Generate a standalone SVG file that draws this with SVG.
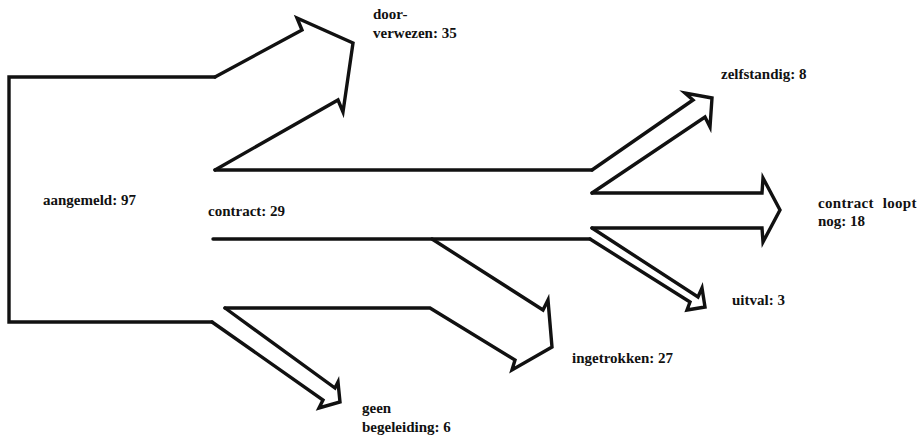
<svg xmlns="http://www.w3.org/2000/svg" width="919" height="438" viewBox="0 0 919 438">
  <style>
    .flow { fill: none; stroke: #111; stroke-width: 3.4; stroke-linejoin: miter; stroke-linecap: round; }
    .lbl { font-family: "Liberation Serif", "Times New Roman", serif; font-weight: bold; font-size: 15px; fill: #111; }
  </style>
  <rect width="919" height="438" fill="#fff"/>

  <!-- flow bands, drawn as outlines -->
  <g id="flows">
    <g id="aangemeld">
      <path class="flow" d="M215,77 L9,77 L9,322 L212,322"/>
    </g>
    <g id="doorverwezen">
      <path class="flow" d="M215,77 L302,30 L297,18 L353,43 L343,112 L338,100 L215,170"/>
    </g>
    <g id="contract">
      <path class="flow" d="M215,170 L592,170"/>
      <path class="flow" d="M213,239 L590,239"/>
    </g>
    <g id="zelfstandig">
      <path class="flow" d="M592,170 L693,100 L685,93 L712,98 L710,127 L705,117 L592,193"/>
    </g>
    <g id="contract-loopt-nog">
      <path class="flow" d="M592,193 L762,193 L763,178 L780,210 L763,242 L762,228 L592,228"/>
    </g>
    <g id="uitval">
      <path class="flow" d="M592,228 L698,297 L702,288 L705,307 L687,310 L690,302 L590,239"/>
    </g>
    <g id="ingetrokken">
      <path class="flow" d="M432,239 L543,310 L548,300 L552,347 L512,370 L515,360 L430,308 L225,308"/>
    </g>
    <g id="geen-begeleiding">
      <path class="flow" d="M225,308 L335,388 L338,382 L340,402 L319,408 L323,400 L212,322"/>
    </g>
  </g>

  <!-- labels -->
  <g id="labels">
    <text class="lbl" x="43" y="205">aangemeld: 97</text>
    <text class="lbl" x="208" y="216">contract: 29</text>
    <text class="lbl" x="373" y="19">door-</text>
    <text class="lbl" x="373" y="38">verwezen: 35</text>
    <text class="lbl" x="721" y="79">zelfstandig: 8</text>
    <text class="lbl" x="818" y="208" word-spacing="5" letter-spacing="0.3">contract loopt</text>
    <text class="lbl" x="818" y="226">nog: 18</text>
    <text class="lbl" x="732" y="305">uitval: 3</text>
    <text class="lbl" x="572" y="363">ingetrokken: 27</text>
    <text class="lbl" x="362" y="413">geen</text>
    <text class="lbl" x="362" y="432">begeleiding: 6</text>
  </g>
</svg>
